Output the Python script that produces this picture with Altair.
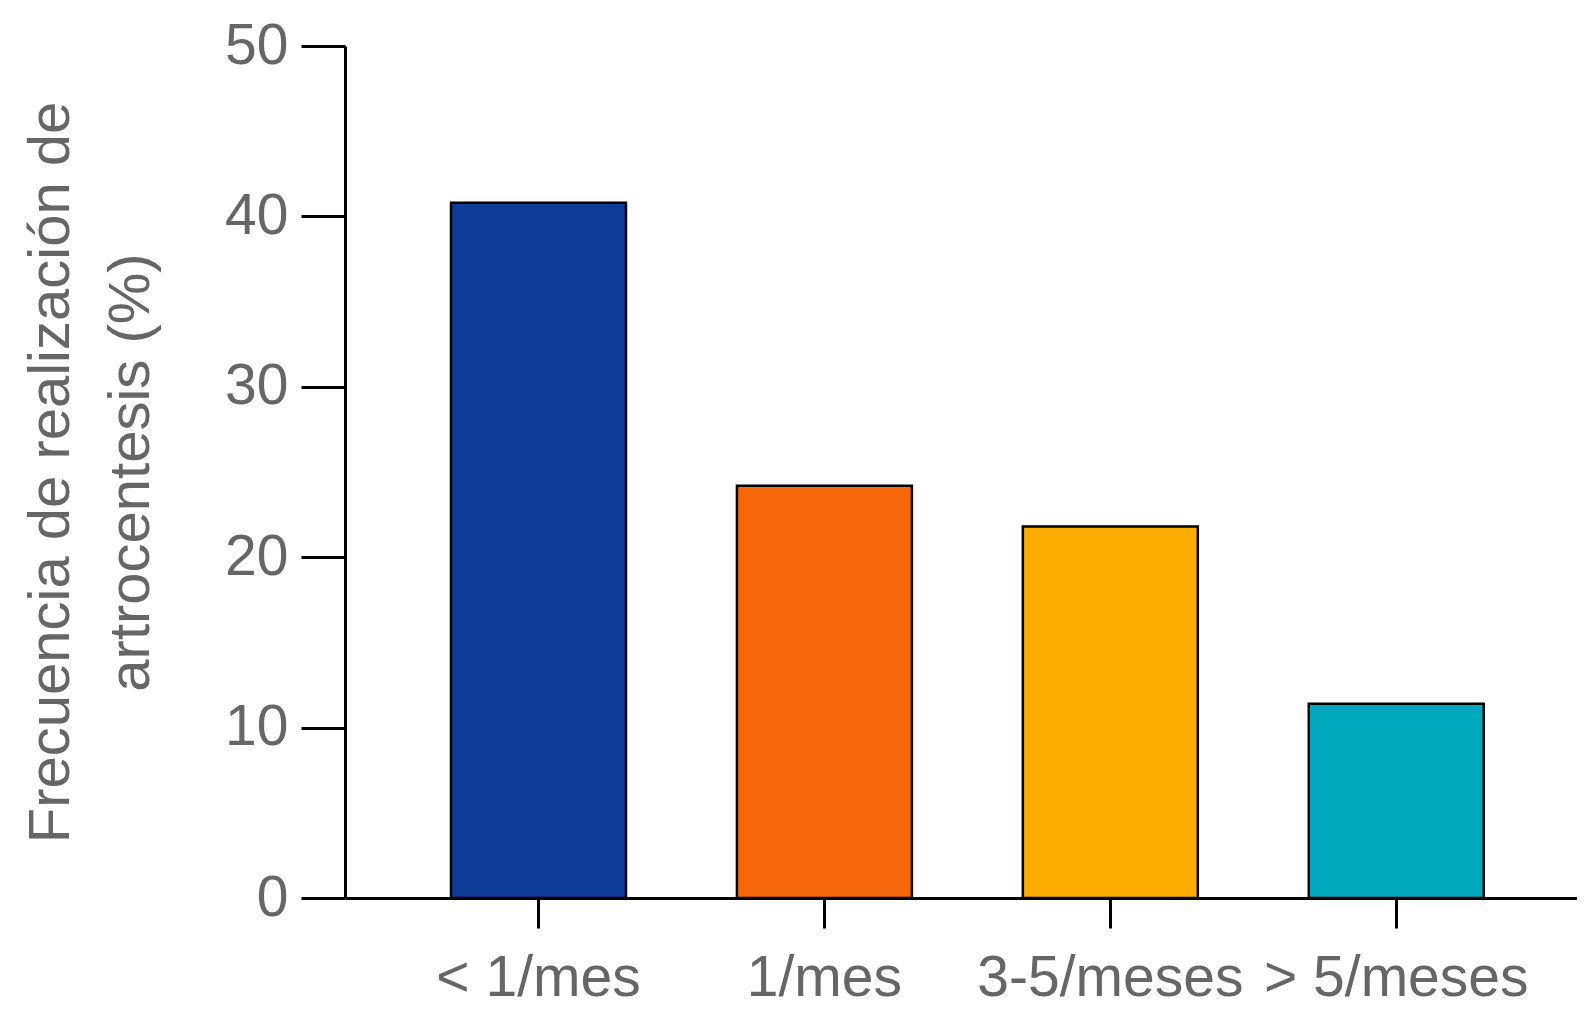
import altair as alt
import pandas as pd

categories = ["< 1/mes", "1/mes", "3-5/meses", "> 5/meses"]
values = [40.8, 24.2, 21.8, 11.4]
colors = ["#0F3B99", "#F5670A", "#FDAC00", "#00A9BC"]
y_ticks = [0, 10, 20, 30, 40, 50]
y_title = ["Frecuencia de realización de", "artrocentesis (%)"]

df = pd.DataFrame({"cat": categories, "val": values})

GRAY = "#666666"

chart = alt.Chart(df).mark_bar(stroke="black", strokeWidth=2.5).encode(
    x=alt.X(
        "cat:N",
        sort=categories,
        scale=alt.Scale(paddingInner=0.388, paddingOuter=0.3485, align=0.532),
        axis=alt.Axis(
            title=None, labelAngle=0, labelFont="Liberation Sans", labelFontSize=57,
            labelColor=GRAY, labelPadding=22, labelLimit=600, tickSize=30, tickWidth=3,
            tickColor="black", domainColor="black", domainWidth=3,
        ),
    ),
    y=alt.Y(
        "val:Q",
        scale=alt.Scale(domain=[0, 50]),
        axis=alt.Axis(
            values=y_ticks, title=y_title, labelFont="Liberation Sans", labelFontSize=57,
            labelColor=GRAY, labelPadding=13, tickSize=44, tickWidth=3,
            tickColor="black", domainColor="black", domainWidth=3,
            titleFont="Liberation Sans", titleFontSize=58, titleFontWeight="normal",
            titleColor=GRAY, titleAngle=-90, titleAlign="center", titleBaseline="alphabetic",
            titleLineHeight=80, titleX=-277, titleY=426, titleLimit=1000,
        ),
    ),
    color=alt.Color("cat:N", scale=alt.Scale(domain=categories, range=colors), legend=None),
).properties(
    width=1232,
    height=852,
    autosize=alt.AutoSizeParams(type="none"),
    padding={"left": 337, "top": 38, "right": 0, "bottom": 114},
).configure_view(stroke=None).configure_axis(grid=False)

chart.save("out.html", embed_options={"renderer": "svg", "actions": False})
